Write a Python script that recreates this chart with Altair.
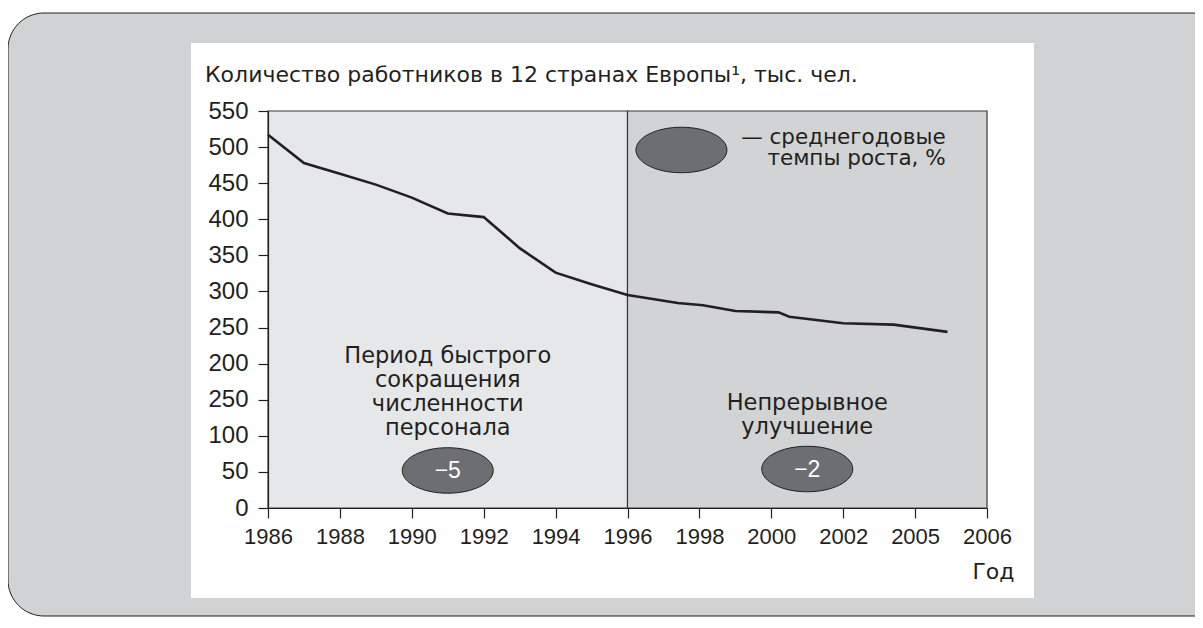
import altair as alt
import pandas as pd

# ---- data ----
years = [1986, 1987, 1988, 1989, 1990, 1991, 1992, 1993, 1994, 1995, 1996,
         1997.4, 1998.1, 1999, 2000.2, 2000.5, 2002, 2003.4, 2004.9]
workers = [517, 478, 463, 448, 430, 408, 403, 360, 326, 310, 295,
           284, 281, 273, 271, 265, 256, 254, 244]

period_start = [1986, 1996]
period_end = [1996, 2006]
period_fill = ["#e6e7e8", "#d1d3d4"]

badge_x = [1991, 2001, 1997.5]
badge_y = [52, 54, 496]
badge_text = ["\u22125", "\u22122", ""]

note_x = [1991, 2001]
note_y = [201, 136]
note_text = ["Период быстрого\nсокращения\nчисленности\nперсонала",
             "Непрерывное\nулучшение"]

legend_x = [2004.85]
legend_y = [504]
legend_text = ["— среднегодовые\nтемпы роста, %"]

y_tick_values = [0, 50, 100, 150, 200, 250, 300, 350, 400, 450, 500, 550]
y_tick_labels = ["0", "50", "100", "250", "200", "250", "300", "350", "400", "450", "500", "550"]
x_tick_values = [1986, 1988, 1990, 1992, 1994, 1996, 1998, 2000, 2002, 2004, 2006]
x_tick_labels = ["1986", "1988", "1990", "1992", "1994", "1996", "1998", "2000", "2002", "2005", "2006"]

title_text = "Количество работников в 12 странах Европы¹, тыс. чел."
x_title = "Год"

NUM_FONT = "Liberation Sans"
TXT_FONT = "DejaVu Sans"
INK = "#231f20"

def lookup_expr(values, labels):
    v = ",".join(str(x) for x in values)
    l = ",".join("'" + s + "'" for s in labels)
    return f"[{l}][indexof([{v}], datum.value)]"

x_axis = alt.Axis(values=x_tick_values, labelExpr=lookup_expr(x_tick_values, x_tick_labels),
                  title=x_title, titleX=746, titleY=70, titleAlign="right",
                  titleBaseline="alphabetic", titleAnchor="end", titleFontWeight="normal",
                  titleFontSize=22, titleFont=TXT_FONT, titleColor=INK,
                  labelFont=NUM_FONT, labelFontSize=22, labelColor=INK, labelPadding=8,
                  tickSize=10, tickColor=INK, tickWidth=1.2, domainColor=INK, domainWidth=1.2,
                  grid=False, labelFlush=False, labelOverlap=False, zindex=1)
y_axis = alt.Axis(values=y_tick_values, labelExpr=lookup_expr(y_tick_values, y_tick_labels),
                  title=None, labelFont=NUM_FONT, labelFontSize=24, labelColor=INK, labelPadding=10,
                  tickSize=10, tickColor=INK, tickWidth=1.2, domainColor=INK, domainWidth=1.2,
                  grid=False, labelFlush=False, labelOverlap=False, zindex=1)

xs = alt.Scale(domain=[1986, 2006], nice=False, zero=False)
ys = alt.Scale(domain=[0, 550], nice=False)

def X(f):
    return alt.X(f, scale=xs, axis=x_axis)

def Y(f):
    return alt.Y(f, scale=ys, axis=y_axis)

one = pd.DataFrame({"k": [0]})

outer = alt.Chart(one).mark_rect(fill="#d1d2d4", stroke=INK, strokeWidth=1,
                                 cornerRadius=36).encode(
    x=alt.value(-260), x2=alt.value(1000), y=alt.value(-98), y2=alt.value(505))
panel = alt.Chart(one).mark_rect(fill="#ffffff").encode(
    x=alt.value(-77), x2=alt.value(766), y=alt.value(-68), y2=alt.value(487))
title = alt.Chart(one).mark_text(text=title_text, font=TXT_FONT, fontSize=22, color=INK,
                                 align="left", baseline="alphabetic").encode(
    x=alt.value(-63), y=alt.value(-29))

periods = pd.DataFrame({"s": period_start, "e": period_end, "f": period_fill,
                        "lo": [0, 0], "hi": [550, 550]})
regions = alt.Chart(periods).mark_rect(stroke="#3a3a3a", strokeWidth=1.2).encode(
    x=X("s:Q"), x2="e:Q", y=Y("lo:Q"), y2="hi:Q",
    fill=alt.Fill("f:N", scale=None))

series = pd.DataFrame({"year": years, "n": workers})
line = alt.Chart(series).mark_line(color=INK, strokeWidth=2.6).encode(
    x=X("year:Q"), y=Y("n:Q"))

ellipse_path = "M-1,0A1,0.5,0,1,0,1,0A1,0.5,0,1,0,-1,0Z"
badges = pd.DataFrame({"x": badge_x, "y": badge_y, "t": badge_text})
badge_marks = alt.Chart(badges).mark_point(shape=ellipse_path, size=91 * 91, filled=True,
                                           fill="#6d6e71", stroke=INK, strokeWidth=1,
                                           opacity=1).encode(
    x=X("x:Q"), y=Y("y:Q"))
badge_text_marks = alt.Chart(badges).mark_text(font=NUM_FONT, fontSize=23, color="#ffffff",
                                               baseline="middle", align="center", dy=1).encode(
    x=X("x:Q"), y=Y("y:Q"), text="t:N")

notes = pd.DataFrame({"x": note_x, "y": note_y, "t": note_text})
note_marks = alt.Chart(notes).mark_text(font=TXT_FONT, fontSize=22.5, color=INK, lineBreak="\n",
                                        lineHeight=24, baseline="alphabetic",
                                        align="center").encode(
    x=X("x:Q"), y=Y("y:Q"), text="t:N")

legend = pd.DataFrame({"x": legend_x, "y": legend_y, "t": legend_text})
legend_marks = alt.Chart(legend).mark_text(font=TXT_FONT, fontSize=21.5, color=INK, lineBreak="\n",
                                           lineHeight=21, baseline="alphabetic",
                                           align="right").encode(
    x=X("x:Q"), y=Y("y:Q"), text="t:N")

chart = alt.layer(outer, panel, title, regions, line, badge_marks, badge_text_marks,
                  note_marks, legend_marks).properties(
    width=719, height=397,
    padding={"left": 260, "top": 103, "right": 208, "bottom": 112},
    autosize=alt.AutoSizeParams(type="none"),
).configure_view(stroke=None).configure(background="#ffffff")

chart.save("out.html", embed_options={"renderer": "svg", "actions": False})
